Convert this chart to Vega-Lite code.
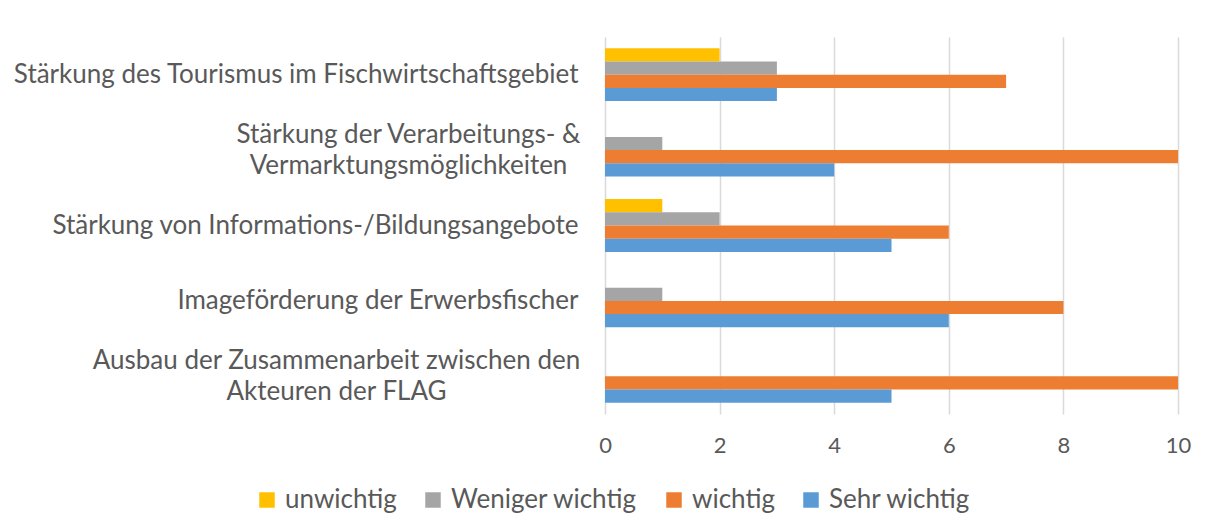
{
  "$schema": "https://vega.github.io/schema/vega-lite/v6.json",
  "width": 573,
  "height": 377,
  "autosize": {"type": "none"},
  "padding": {"left": 605, "top": 37, "right": 30, "bottom": 117},
  "background": "white",
  "config": {
    "view": {"stroke": null},
    "font": "Lato"
  },
  "data": {
    "values": [
      {"cat": "Stärkung des Tourismus im Fischwirtschaftsgebiet", "series": "unwichtig", "value": 2},
      {"cat": "Stärkung des Tourismus im Fischwirtschaftsgebiet", "series": "Weniger wichtig", "value": 3},
      {"cat": "Stärkung des Tourismus im Fischwirtschaftsgebiet", "series": "wichtig", "value": 7},
      {"cat": "Stärkung des Tourismus im Fischwirtschaftsgebiet", "series": "Sehr wichtig", "value": 3},
      {"cat": "Stärkung der Verarbeitungs- &|Vermarktungsmöglichkeiten", "series": "Weniger wichtig", "value": 1},
      {"cat": "Stärkung der Verarbeitungs- &|Vermarktungsmöglichkeiten", "series": "wichtig", "value": 10},
      {"cat": "Stärkung der Verarbeitungs- &|Vermarktungsmöglichkeiten", "series": "Sehr wichtig", "value": 4},
      {"cat": "Stärkung von Informations-/Bildungsangebote", "series": "unwichtig", "value": 1},
      {"cat": "Stärkung von Informations-/Bildungsangebote", "series": "Weniger wichtig", "value": 2},
      {"cat": "Stärkung von Informations-/Bildungsangebote", "series": "wichtig", "value": 6},
      {"cat": "Stärkung von Informations-/Bildungsangebote", "series": "Sehr wichtig", "value": 5},
      {"cat": "Imageförderung der Erwerbsfischer", "series": "Weniger wichtig", "value": 1},
      {"cat": "Imageförderung der Erwerbsfischer", "series": "wichtig", "value": 8},
      {"cat": "Imageförderung der Erwerbsfischer", "series": "Sehr wichtig", "value": 6},
      {"cat": "Ausbau der Zusammenarbeit zwischen den|Akteuren der FLAG", "series": "wichtig", "value": 10},
      {"cat": "Ausbau der Zusammenarbeit zwischen den|Akteuren der FLAG", "series": "Sehr wichtig", "value": 5}
    ]
  },
  "mark": {"type": "bar"},
  "encoding": {
    "y": {
      "field": "cat",
      "type": "nominal",
      "sort": null,
      "scale": {"paddingInner": 0.3, "paddingOuter": 0.15},
      "axis": {
        "title": null,
        "domain": false,
        "ticks": false,
        "grid": false,
        "labelExpr": "split(datum.value, '|')",
        "labelFontSize": 26,
        "labelColor": "#595959",
        "labelLineHeight": 31,
        "labelLimit": 700,
        "labelAlign": {"condition": {"test": "indexof(datum.value, '|') >= 0", "value": "center"}, "value": "right"},
        "labelOffset": {"condition": {"test": "indexof(datum.value, '|') >= 0", "value": -15}, "value": 0},
        "labelPadding": {"condition": [
          {"test": "indexof(datum.value, 'Ausbau') >= 0", "value": 269},
          {"test": "indexof(datum.value, 'Verarbeitungs') >= 0", "value": 197}
        ], "value": 27}
      }
    },
    "yOffset": {
      "field": "series",
      "type": "nominal",
      "scale": {"domain": ["unwichtig", "Weniger wichtig", "wichtig", "Sehr wichtig"], "paddingInner": 0, "paddingOuter": 0}
    },
    "x": {
      "field": "value",
      "type": "quantitative",
      "scale": {"domain": [0, 10], "nice": false},
      "axis": {
        "title": null,
        "values": [0, 2, 4, 6, 8, 10],
        "domain": false,
        "ticks": false,
        "grid": true,
        "gridColor": "#D9D9D9",
        "gridWidth": 1.5,
        "labelFontSize": 22,
        "labelColor": "#595959",
        "labelPadding": 21,
        "labelFlush": false
      }
    },
    "color": {
      "field": "series",
      "type": "nominal",
      "scale": {
        "domain": ["unwichtig", "Weniger wichtig", "wichtig", "Sehr wichtig"],
        "range": ["#FFC000", "#A5A5A5", "#ED7D31", "#5B9BD5"]
      },
      "legend": {
        "title": null,
        "orient": "none",
        "direction": "horizontal",
        "padding": 0,
        "legendX": -351,
        "legendY": 450,
        "symbolType": "square",
        "symbolSize": 240,
        "symbolStrokeWidth": 0,
        "labelFontSize": 26,
        "labelColor": "#595959",
        "labelOffset": 5,
        "columnPadding": 23,
        "labelLimit": 300
      }
    }
  }
}
